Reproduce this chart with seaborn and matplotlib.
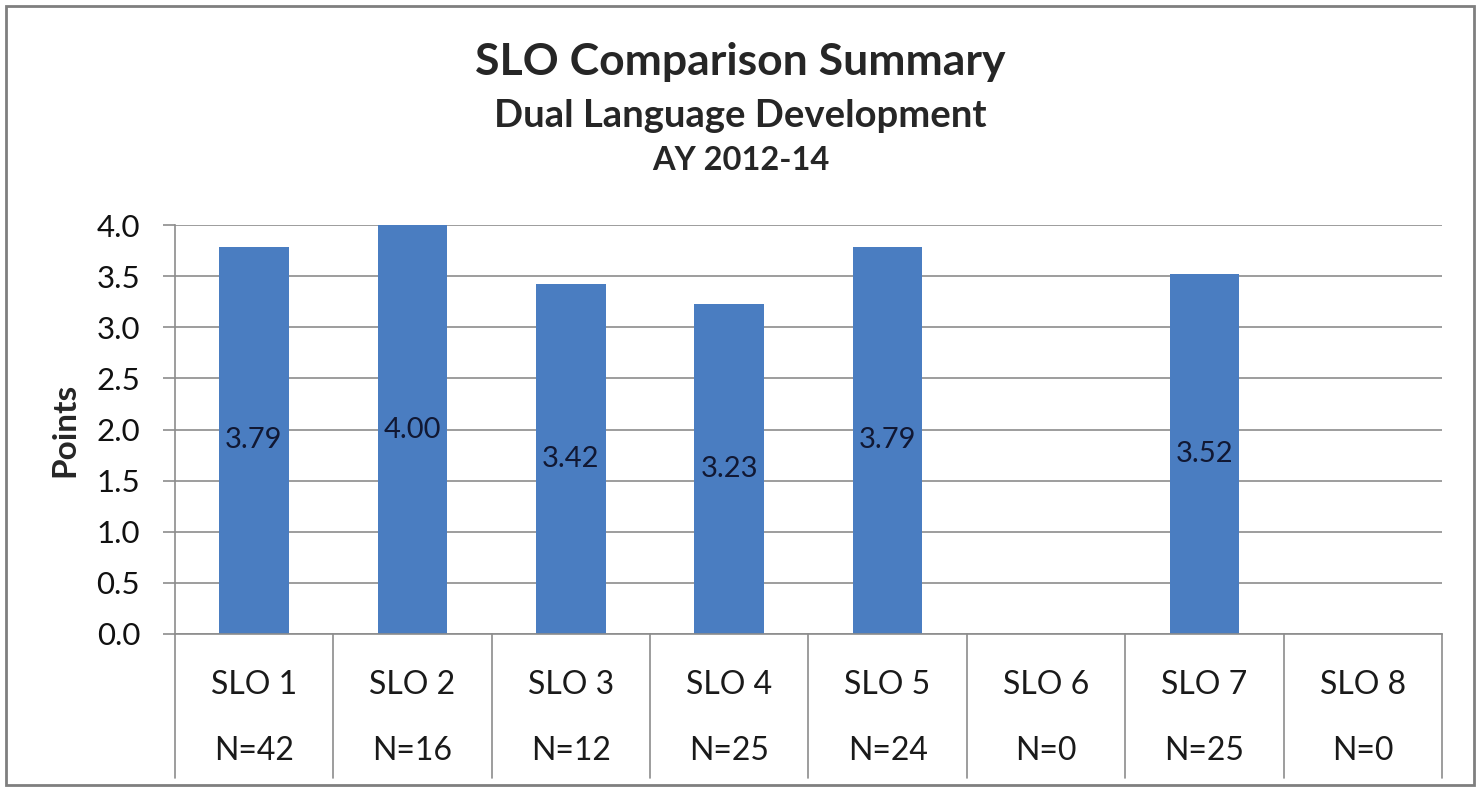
import matplotlib
matplotlib.use("Agg")
import matplotlib.pyplot as plt
import seaborn as sns
import numpy as np
import pandas as pd
from matplotlib.patches import Rectangle

categories = ["SLO 1", "SLO 2", "SLO 3", "SLO 4", "SLO 5", "SLO 6", "SLO 7", "SLO 8"]
n_counts = [42, 16, 12, 25, 24, 0, 25, 0]
points = [3.79, 4.00, 3.42, 3.23, 3.79, 0.0, 3.52, 0.0]
y_ticks = [0.0, 0.5, 1.0, 1.5, 2.0, 2.5, 3.0, 3.5, 4.0]

df = pd.DataFrame({"SLO": categories, "Points": points, "N": n_counts})

sns.set_theme(style="white")
plt.rcParams["font.family"] = ["Lato", "DejaVu Sans"]

grid_col = "#8c8c8c"
bar_col = "#4a7dc1"

fig = plt.figure(figsize=(14.81, 7.91), dpi=100)
ax = fig.add_axes([0.118, 0.1985, 0.8557, 0.517])

sns.barplot(data=df, x="SLO", y="Points", order=categories, color=bar_col,
            width=0.44, linewidth=0, saturation=1, ax=ax)

ax.set_ylim(0, 4.0)
ax.set_xlim(-0.5, len(categories) - 0.5)
ax.set_yticks(y_ticks)
ax.set_yticklabels([f"{t:.1f}" for t in y_ticks], fontsize=22.5, color="#111111")
ax.yaxis.grid(True, color=grid_col, linewidth=1.2)
ax.set_axisbelow(True)
ax.tick_params(axis="y", length=9, width=1.2, color=grid_col, pad=16, left=True)
ax.tick_params(axis="x", bottom=False, labelbottom=False)
ax.set_xlabel("")
ax.set_ylabel("Points", fontsize=24, fontweight="bold", labelpad=12)

for side in ["top", "right"]:
    ax.spines[side].set_visible(False)
ax.spines["left"].set_color(grid_col)
ax.spines["left"].set_linewidth(1.2)
ax.spines["bottom"].set_color(grid_col)
ax.spines["bottom"].set_linewidth(1.2)

# value labels in the middle of the bars
for i, (v, n) in enumerate(zip(points, n_counts)):
    if n > 0:
        ax.text(i, v / 2, f"{v:.2f}", ha="center", va="center",
                fontsize=21, color="#111833")

# multi-level category table below the axis
trans = ax.get_xaxis_transform()
for i, (c, n) in enumerate(zip(categories, n_counts)):
    ax.text(i, -0.125, c, transform=trans, ha="center", va="center", fontsize=23,
            color="#1a1a1a", clip_on=False)
    ax.text(i, -0.285, f"N={n}", transform=trans, ha="center", va="center", fontsize=23,
            color="#1a1a1a", clip_on=False)
for b in np.arange(-0.5, len(categories), 1.0):
    ax.plot([b, b], [0, -0.352], transform=trans, color=grid_col, linewidth=1.2,
            clip_on=False)

fig.text(0.5, 0.922, "SLO Comparison Summary", ha="center", va="center",
         fontsize=32, fontweight="bold")
fig.text(0.5, 0.853, "Dual Language Development", ha="center", va="center",
         fontsize=27.5, fontweight="bold")
fig.text(0.5, 0.797, "AY 2012-14", ha="center", va="center",
         fontsize=23.5, fontweight="bold")

fig.patches.append(Rectangle((0.004, 0.008), 0.991, 0.984, transform=fig.transFigure,
                             fill=False, edgecolor="#7f7f7f", linewidth=2))

fig.savefig("out.png", dpi=100)
